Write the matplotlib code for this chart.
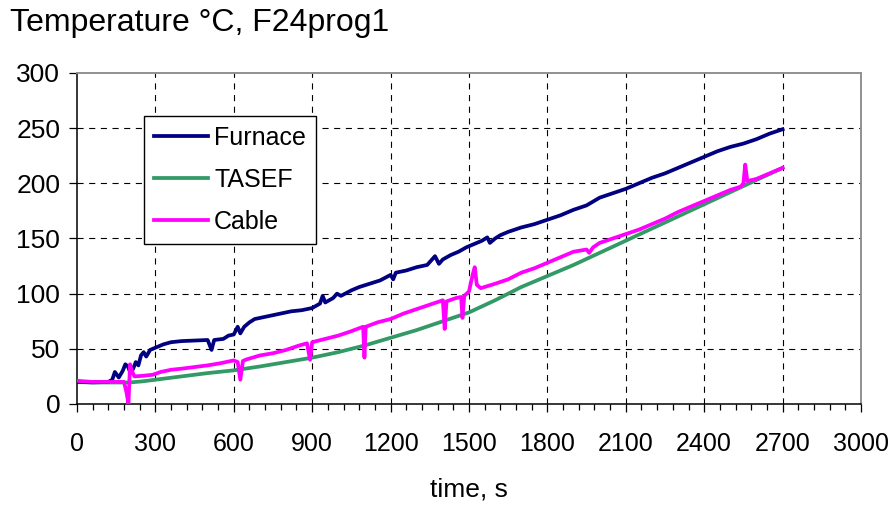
import matplotlib
matplotlib.use("Agg")
import matplotlib.pyplot as plt
from matplotlib.ticker import MultipleLocator

plt.rcParams['font.family'] = ['Liberation Sans', 'DejaVu Sans']

# furnace gas temperature, deg C
furnace_t = [0, 60, 120, 135, 145, 160, 175, 185, 195, 205, 215, 225, 235, 245,
             255, 265, 280, 300, 330, 360, 400, 450, 500, 515, 525, 560, 580,
             600, 615, 625, 640, 660, 680, 700, 740, 780, 820, 860, 900, 930,
             940, 950, 980, 995, 1010, 1050, 1080, 1120, 1160, 1200, 1210, 1220,
             1260, 1300, 1340, 1370, 1385, 1400, 1430, 1460, 1490, 1520, 1550,
             1570, 1580, 1600, 1620, 1650, 1700, 1750, 1800, 1850, 1900, 1950,
             2000, 2050, 2100, 2150, 2200, 2250, 2300, 2350, 2400, 2450, 2500,
             2550, 2600, 2650, 2700]
furnace_T = [20, 19.5, 20, 22, 29, 24, 30, 36, 34, 28, 32, 38, 35, 44,
             47, 43, 49, 51, 54, 56, 57, 57.5, 58, 49, 58, 59, 62,
             63, 70, 64, 70, 74, 77, 78, 80, 82, 84, 85, 87, 91,
             98, 92, 96, 100, 98, 103, 106, 109, 112, 117, 113, 119,
             121, 124, 126, 134, 127, 131, 135, 138, 142, 145, 148,
             151, 146, 150, 153, 156, 160, 163, 167, 171, 176, 180,
             187, 191, 195, 200, 205, 209, 214, 219, 224, 229, 233,
             236, 240, 245, 249]

# TASEF plate thermometer
tasef_t = [0, 100, 200, 250, 300, 350, 400, 450, 500, 600, 700, 800, 900,
           1000, 1100, 1200, 1300, 1400, 1500, 1600, 1700, 1800, 1900, 2000,
           2100, 2200, 2300, 2400, 2500, 2600, 2700]
tasef_T = [20, 19.5, 19.5, 20.5, 22, 23.5, 25, 26.5, 28, 30.5, 34, 38, 42,
           47, 53, 60, 67, 75, 83, 94, 106, 116, 126, 137,
           148, 159, 170, 181, 192, 203, 214]

# cable surface
cable_t = [0, 60, 120, 180, 190, 197, 203, 210, 220, 250, 290, 320, 360, 400,
           450, 500, 550, 600, 615, 625, 635, 650, 700, 750, 800, 850, 880,
           892, 900, 950, 1000, 1050, 1095, 1100, 1105, 1150, 1200, 1250,
           1300, 1350, 1400, 1407, 1414, 1450, 1470, 1475, 1482, 1500, 1515,
           1522, 1530, 1545, 1600, 1650, 1700, 1750, 1800, 1850, 1900, 1950,
           1960, 1975, 2000, 2050, 2100, 2150, 2200, 2250, 2300, 2350, 2400,
           2450, 2500, 2540, 2550, 2557, 2565, 2600, 2650, 2700]
cable_T = [21, 20, 20, 20, 10, 0, 36, 30, 25, 25.5, 26.5, 29, 31, 32,
           33.5, 35, 37, 39.5, 38, 22, 39, 40.5, 44, 46, 49, 53, 55,
           40, 56, 59, 62, 66, 70, 42, 70, 74, 77, 82,
           86, 90, 94, 68, 93, 96, 97, 78, 98, 102, 118,
           124, 108, 105, 109, 113, 119, 123, 128, 133, 138, 140,
           137, 142, 146, 150, 154, 158, 163, 168, 174, 179, 184,
           189, 194, 197, 200, 217, 202, 204, 209, 214]

x_ticks = [0, 300, 600, 900, 1200, 1500, 1800, 2100, 2400, 2700, 3000]
y_ticks = [0, 50, 100, 150, 200, 250, 300]

fig = plt.figure(figsize=(8.95, 5.09), dpi=100)
ax = fig.add_axes([0.086, 0.2063, 0.876, 0.6503])

lw = 2.7
ax.plot(furnace_t, furnace_T, color='#000080', lw=lw, label='Furnace', zorder=4)
ax.plot(tasef_t, tasef_T, color='#339966', lw=lw, label='TASEF', zorder=3)
ax.plot(cable_t, cable_T, color='#FF00FF', lw=lw, label='Cable', zorder=5)

ax.set_xlim(0, 3000)
ax.set_ylim(0, 300)
ax.set_xticks(x_ticks)
ax.set_yticks(y_ticks)
ax.xaxis.set_minor_locator(MultipleLocator(60))

# dashed grid only on the inner major ticks
for xv in x_ticks[1:-1]:
    ax.axvline(xv, color='black', lw=0.8, dashes=(5.5, 5), zorder=1)
for yv in y_ticks[1:-1]:
    ax.axhline(yv, color='black', lw=0.8, dashes=(5.5, 5), zorder=1)

for side in ('left', 'bottom'):
    ax.spines[side].set_color('black')
    ax.spines[side].set_linewidth(1.1)
for side in ('top', 'right'):
    ax.spines[side].set_color('#909090')
    ax.spines[side].set_linewidth(1.4)

ax.tick_params(axis='y', which='major', direction='out', length=6, width=0.9,
               labelsize=19, pad=6)
ax.tick_params(axis='x', which='major', direction='out', length=6, width=0.9,
               labelsize=18, pad=14)
ax.tick_params(axis='x', which='minor', direction='out', length=4.5, width=0.9)

ax.set_xlabel('time, s', fontsize=19, labelpad=16)
fig.text(0.011, 0.985, 'Temperature \u00b0C, F24prog1', fontsize=23,
         ha='left', va='top')

leg = ax.legend(loc='upper left', bbox_to_anchor=(0.0855, 0.87), borderaxespad=0,
                fontsize=18, frameon=True, fancybox=False, edgecolor='black',
                framealpha=1, handlelength=2.15, handletextpad=0.25,
                labelspacing=0.72, borderpad=0.4)
leg.get_frame().set_linewidth(1.0)
leg.set_zorder(10)

fig.savefig('out.png', dpi=100)
